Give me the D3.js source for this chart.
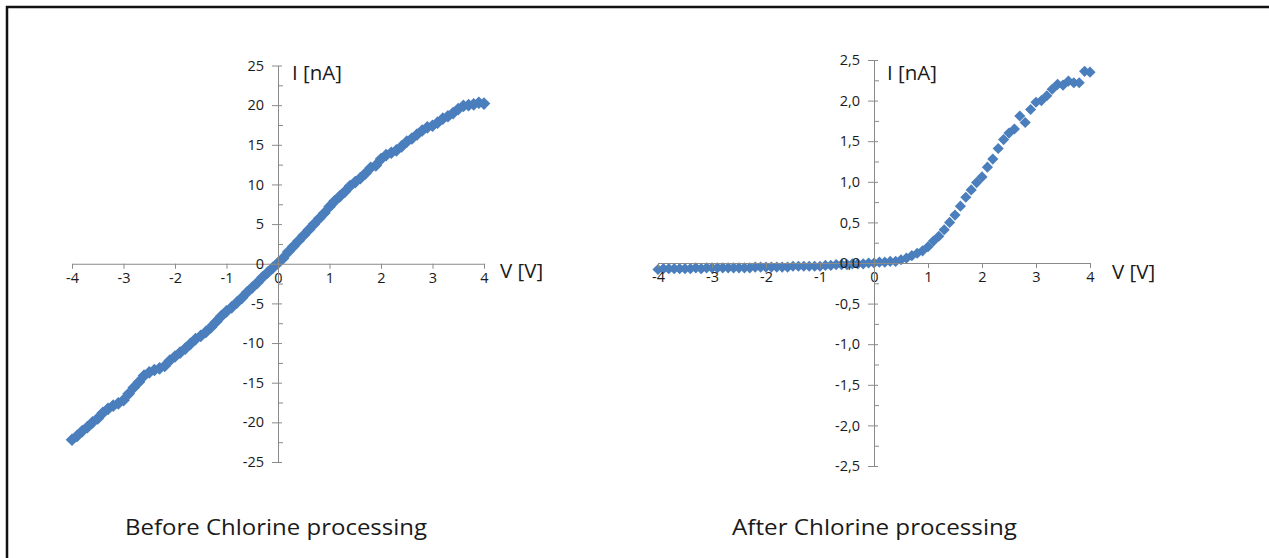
<!DOCTYPE html>
<html>
<head>
<meta charset="utf-8">
<title>IV curves</title>
<script src="https://cdn.jsdelivr.net/npm/d3@7"></script>
<style>
body { margin: 0; background: #fff; }
text { font-family: "Open Sans", "Noto Sans", sans-serif; fill: #1a1a1a; }
</style>
</head>
<body>
<svg width="1269" height="558"></svg>
<script>

// voltage sweep, -4 .. 4 V step 0.1
var volts = [-4.0,-3.9,-3.8,-3.7,-3.6,-3.5,-3.4,-3.3,-3.2,-3.1,-3.0,-2.9,-2.8,-2.7,-2.6,-2.5,-2.4,-2.3,-2.2,-2.1,
 -2.0,-1.9,-1.8,-1.7,-1.6,-1.5,-1.4,-1.3,-1.2,-1.1,-1.0,-0.9,-0.8,-0.7,-0.6,-0.5,-0.4,-0.3,-0.2,-0.1,
 0.0,0.1,0.2,0.3,0.4,0.5,0.6,0.7,0.8,0.9,1.0,1.1,1.2,1.3,1.4,1.5,1.6,1.7,1.8,1.9,
 2.0,2.1,2.2,2.3,2.4,2.5,2.6,2.7,2.8,2.9,3.0,3.1,3.2,3.3,3.4,3.5,3.6,3.7,3.8,3.9,4.0];

// current before chlorine [nA]
var before = [-22.2,-21.7,-21.1,-20.6,-20.0,-19.5,-18.8,-18.3,-17.9,-17.6,-17.2,-16.4,-15.6,-14.9,-14.1,-13.7,-13.4,-13.2,-12.9,-12.2,
 -11.7,-11.2,-10.7,-10.1,-9.5,-9.1,-8.6,-8.0,-7.3,-6.6,-6.0,-5.5,-4.9,-4.3,-3.6,-3.0,-2.4,-1.7,-1.1,-0.5,
 0.1,0.7,1.5,2.2,2.9,3.6,4.3,5.0,5.7,6.4,7.2,7.9,8.5,9.1,9.8,10.3,10.8,11.4,12.1,12.4,
 13.2,13.7,14.0,14.3,14.8,15.4,15.8,16.3,16.8,17.2,17.4,17.8,18.3,18.6,19.0,19.5,19.9,20.0,20.1,20.3,20.2];

// current after chlorine [nA]
var after = [-0.08,-0.07,-0.07,-0.07,-0.07,-0.07,-0.07,-0.06,-0.07,-0.06,-0.06,-0.06,-0.06,-0.06,-0.06,-0.06,-0.06,-0.06,-0.05,-0.05,
 -0.05,-0.05,-0.05,-0.05,-0.05,-0.04,-0.04,-0.04,-0.04,-0.04,-0.04,-0.03,-0.03,-0.02,-0.02,-0.02,-0.01,-0.01,-0.01,0.0,
 0.0,0.01,0.01,0.02,0.02,0.04,0.06,0.09,0.12,0.15,0.2,0.27,0.33,0.41,0.5,0.59,0.7,0.81,0.9,0.99,
 1.06,1.18,1.28,1.41,1.52,1.6,1.65,1.81,1.73,1.89,1.98,2.0,2.06,2.14,2.2,2.19,2.24,2.22,2.22,2.36,2.35];

var xTicks = [-4,-3,-2,-1,0,1,2,3,4];
var yTicksBefore = [-25,-20,-15,-10,-5,0,5,10,15,20,25];
var yMinorBefore = [-22.5,-17.5,-12.5,-7.5,-2.5,2.5,7.5,12.5,17.5,22.5];
var yTicksAfter = [-2.5,-2,-1.5,-1,-0.5,0,0.5,1,1.5,2,2.5];
var yLabelsAfter = ["-2,5","-2,0","-1,5","-1,0","-0,5","0,0","0,5","1,0","1,5","2,0","2,5"];
var yMinorAfter = [-2.25,-1.75,-1.25,-0.75,-0.25,0.25,0.75,1.25,1.75,2.25];

var svg = d3.select("svg");
var blue = "#4a7ebc";
var grey = "#8a8a8a";

// frame
svg.append("rect").attr("x", 7).attr("y", 7).attr("width", 1300).attr("height", 600)
  .attr("fill", "none").attr("stroke", "#111").attr("stroke-width", 2.5);

function panel(o) {
  var x = d3.scaleLinear().domain([-4, 4]).range([o.x0, o.x1]);
  var y = d3.scaleLinear().domain(o.ydom).range([o.y1, o.y0]);
  var g = svg.append("g");

  // markers first, axis labels sit on top like in excel
  g.append("g").selectAll("path").data(o.vals).enter().append("path")
    .attr("d", d3.symbol(d3.symbolSquare, o.msize))
    .attr("transform", function(d, i) {
      return "translate(" + x(volts[i]) + "," + y(d) + ") rotate(45)";
    })
    .attr("fill", blue);

  g.append("g").attr("transform", "translate(0," + y(0) + ")")
    .call(d3.axisBottom(x).tickValues(xTicks).tickSize(5).tickSizeOuter(0).tickPadding(4)
      .tickFormat(function(d) { return String(d); }));

  g.append("g").attr("transform", "translate(" + x(0) + ",0)")
    .call(d3.axisLeft(y).tickValues(o.yticks).tickSize(6).tickSizeOuter(0).tickPadding(8)
      .tickFormat(function(d, i) { return o.ylabels[i]; }));

  g.append("g").attr("transform", "translate(" + x(0) + ",0)")
    .call(d3.axisRight(y).tickValues(o.yticks).tickSize(4).tickSizeOuter(0).tickFormat(""))
    .select(".domain").remove();
  g.append("g").attr("transform", "translate(" + x(0) + ",0)")
    .call(d3.axisRight(y).tickValues(o.yminor).tickSize(5).tickSizeOuter(0).tickFormat(""))
    .select(".domain").remove();

  g.selectAll(".domain, .tick line").attr("stroke", grey);
  g.selectAll(".tick text").attr("font-size", 14.5).attr("fill", "#222")
    .style("font-family", "'Open Sans', sans-serif");

  g.append("text").attr("x", o.ilab[0]).attr("y", o.ilab[1]).attr("font-size", 20.5).text("I [nA]");
  g.append("text").attr("x", o.vlab[0]).attr("y", o.vlab[1]).attr("font-size", 20.5).text("V [V]");

  g.append("text").attr("x", o.title[0]).attr("y", o.title[1]).attr("font-size", 21)
    .attr("textLength", o.title[2]).attr("lengthAdjust", "spacingAndGlyphs").text(o.titleText);
}

panel({
  x0: 72, x1: 484, y0: 65.5, y1: 462, ydom: [-25, 25],
  yticks: yTicksBefore, ylabels: yTicksBefore.map(String), yminor: yMinorBefore,
  vals: before, msize: 80,
  ilab: [292, 80], vlab: [500, 278],
  title: [125, 535, 302], titleText: "Before Chlorine processing"
});

panel({
  x0: 658, x1: 1090, y0: 60, y1: 466, ydom: [-2.5, 2.5],
  yticks: yTicksAfter, ylabels: yLabelsAfter, yminor: yMinorAfter,
  vals: after, msize: 62,
  ilab: [887, 80], vlab: [1112, 279],
  title: [732, 535, 285], titleText: "After Chlorine processing"
});

</script>
</body>
</html>
